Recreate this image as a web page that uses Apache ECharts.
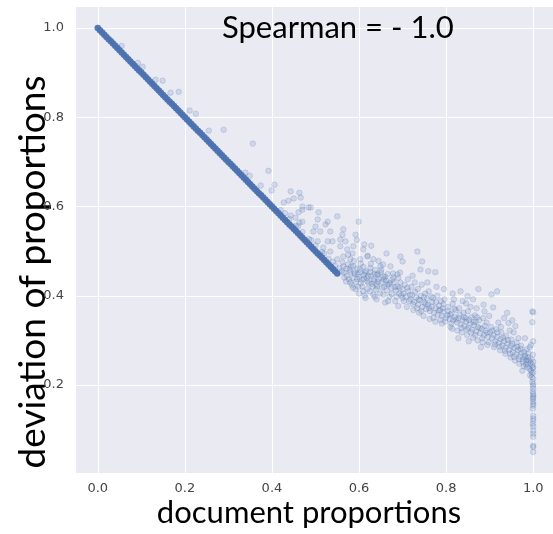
<!DOCTYPE html>
<html><head><meta charset="utf-8">
<script src="https://cdn.jsdelivr.net/npm/echarts@6/dist/echarts.min.js"></script>
<style>html,body{margin:0;padding:0;background:#fff}#c{width:553px;height:534px}</style>
</head><body><div id="c"></div>
<script>
const titleText = 'Spearman = - 1.0';
const xName = 'document proportions';
const yName = 'deviation of proportions';
const xTicks = [0, 0.2, 0.4, 0.6, 0.8, 1.0];
const yTicks = [0.2, 0.4, 0.6, 0.8, 1.0];

// dense diagonal run of points
const diagX = [0,0.005,0.01,0.015,0.02,0.025,0.03,0.035,0.04,0.045,
0.05,0.055,0.06,0.065,0.07,0.075,0.08,0.085,0.09,0.095,
0.1,0.105,0.11,0.115,0.12,0.125,0.13,0.135,0.14,0.145,
0.15,0.155,0.16,0.165,0.17,0.175,0.18,0.185,0.19,0.195,
0.2,0.205,0.21,0.215,0.22,0.225,0.23,0.235,0.24,0.245,
0.25,0.255,0.26,0.265,0.27,0.275,0.28,0.285,0.29,0.295,
0.3,0.305,0.31,0.315,0.32,0.325,0.33,0.335,0.34,0.345,
0.35,0.355,0.36,0.365,0.37,0.375,0.38,0.385,0.39,0.395,
0.4,0.405,0.41,0.415,0.42,0.425,0.43,0.435,0.44,0.445,
0.45,0.455,0.46,0.465,0.47,0.475,0.48,0.485,0.49,0.495,
0.5,0.505,0.51,0.515,0.52,0.525,0.53,0.535,0.54,0.545,
0.55];
const diagY = [1,0.995,0.99,0.985,0.98,0.975,0.97,0.965,0.96,0.955,
0.95,0.945,0.94,0.935,0.93,0.925,0.92,0.915,0.91,0.905,
0.9,0.895,0.89,0.885,0.88,0.875,0.87,0.865,0.86,0.855,
0.85,0.845,0.84,0.835,0.83,0.825,0.82,0.815,0.81,0.805,
0.8,0.795,0.79,0.785,0.78,0.775,0.77,0.765,0.76,0.755,
0.75,0.745,0.74,0.735,0.73,0.725,0.72,0.715,0.71,0.705,
0.7,0.695,0.69,0.685,0.68,0.675,0.67,0.665,0.66,0.655,
0.65,0.645,0.64,0.635,0.63,0.625,0.62,0.615,0.61,0.605,
0.6,0.595,0.59,0.585,0.58,0.575,0.57,0.565,0.56,0.555,
0.55,0.545,0.54,0.535,0.53,0.525,0.52,0.515,0.51,0.505,
0.5,0.495,0.49,0.485,0.48,0.475,0.47,0.465,0.46,0.455,
0.45];

const upperPoints = [[0.055,0.960],[0.092,0.922],[0.103,0.913],[0.133,0.884],[0.149,0.882],[0.167,0.855],[0.186,0.857],[0.211,0.815],[0.225,0.808],[0.255,0.770],[0.289,0.772],[0.356,0.741],[0.339,0.676],[0.349,0.669],[0.374,0.647],[0.392,0.680],[0.406,0.649],[0.399,0.636]];

const cloudPoints = [
[0.443,0.634],[0.463,0.631],[0.466,0.620],[0.427,0.609],[0.438,0.613],[0.450,0.618],[0.484,0.598],[0.470,0.593],[0.461,0.587],[0.443,0.580],[0.454,0.575],[0.470,0.566],[0.463,0.564],[0.507,0.587],[0.505,0.571],[0.528,0.566],[0.550,0.578],[0.599,0.566],[0.500,0.555],[0.511,0.544],[0.534,0.544],[0.564,0.549],[0.592,0.537],[0.557,0.526],[0.539,0.522],[0.528,0.522],[0.505,0.522],[0.518,0.508],[0.534,0.499],[0.557,0.511],[0.573,0.504],[0.587,0.511],[0.610,0.504],[0.619,0.488],[0.564,0.488],[0.550,0.482],[0.580,0.482],[0.603,0.482],[0.633,0.482],[0.649,0.466],[0.672,0.466],[0.587,0.466],[0.564,0.466],[0.580,0.453],[0.603,0.453],[0.626,0.453],[0.642,0.448],[0.656,0.444],[0.679,0.441],[0.596,0.437],[0.619,0.432],[0.633,0.437],[0.580,0.430],[0.592,0.415],[0.619,0.415],[0.642,0.421],[0.665,0.426],[0.688,0.421],[0.667,0.388],[0.683,0.388],[0.656,0.403],[0.633,0.403],[0.610,0.410],[0.690,0.377],[0.688,0.448],
[0.420,0.592],[0.440,0.572],[0.455,0.557],[0.470,0.543],[0.485,0.527],[0.500,0.513],[0.515,0.498],[0.530,0.483],[0.545,0.468],[0.430,0.585],[0.460,0.556],[0.490,0.525],[0.520,0.495],[0.540,0.476],[0.555,0.462],[0.560,0.455],
[0.470,0.600],[0.489,0.598],[0.495,0.544],[0.523,0.560],[0.562,0.537],[0.569,0.522],
[0.565,0.452],[0.572,0.445],[0.578,0.458],[0.585,0.440],[0.590,0.449],[0.596,0.461],[0.600,0.442],[0.606,0.436],[0.612,0.447],[0.618,0.440],[0.622,0.428],[0.628,0.445],[0.634,0.433],[0.640,0.426],[0.645,0.438],[0.652,0.431],[0.658,0.420],[0.662,0.434],[0.668,0.425],[0.674,0.417],[0.680,0.430],[0.685,0.412],[0.692,0.405],[0.575,0.470],[0.583,0.425],[0.598,0.420],[0.610,0.465],[0.625,0.410],[0.637,0.458],[0.648,0.405],[0.655,0.470],[0.670,0.398],[0.678,0.450],[0.695,0.430],[0.700,0.415],[0.562,0.475],[0.570,0.432],[0.588,0.478],[0.604,0.428],[0.616,0.455],[0.631,0.420],[0.643,0.447],[0.660,0.442],[0.676,0.436],[0.690,0.440],[0.615,0.395],[0.640,0.392],[0.660,0.385],[0.600,0.405],[0.585,0.495],[0.620,0.490],[0.645,0.478],[0.595,0.525],[0.612,0.515],
[0.566,0.441],[0.571,0.461],[0.577,0.437],[0.582,0.466],[0.589,0.452],[0.593,0.431],[0.597,0.448],[0.602,0.459],[0.607,0.421],[0.611,0.438],[0.614,0.452],[0.621,0.444],[0.626,0.462],[0.629,0.427],[0.636,0.449],[0.639,0.414],[0.644,0.432],[0.650,0.452],[0.653,0.418],[0.657,0.437],[0.664,0.412],[0.666,0.449],[0.671,0.429],[0.675,0.404],[0.682,0.419],[0.686,0.398],[0.693,0.418],[0.697,0.401],[0.604,0.472],[0.627,0.472],[0.651,0.458],[0.586,0.418],[0.613,0.401],[0.636,0.398],[0.694,0.452],[0.663,0.495],[0.628,0.512],[0.575,0.492],
[0.734,0.499],[0.745,0.477],[0.695,0.488],[0.700,0.477],[0.741,0.459],[0.759,0.455],[0.775,0.453],
[0.702,0.405],[0.708,0.398],[0.713,0.410],[0.718,0.392],[0.722,0.402],[0.727,0.386],[0.731,0.396],[0.736,0.380],[0.740,0.390],[0.745,0.375],[0.750,0.385],[0.754,0.370],[0.758,0.380],[0.763,0.366],[0.767,0.376],[0.772,0.362],[0.776,0.372],[0.781,0.358],[0.786,0.368],[0.790,0.355],[0.795,0.364],[0.799,0.350],
[0.705,0.425],[0.712,0.437],[0.720,0.420],[0.728,0.430],[0.735,0.415],[0.744,0.425],[0.752,0.405],[0.760,0.410],[0.770,0.395],[0.780,0.400],[0.788,0.388],[0.796,0.392],[0.710,0.375],[0.725,0.368],[0.738,0.362],[0.748,0.355],[0.762,0.348],[0.775,0.342],[0.790,0.338],[0.715,0.388],[0.742,0.400],[0.756,0.394],[0.768,0.386],[0.784,0.378],[0.733,0.372],[0.792,0.372],[0.700,0.395],[0.723,0.445],[0.757,0.430],[0.778,0.420],[0.795,0.415],
[0.703,0.388],[0.711,0.418],[0.717,0.402],[0.724,0.381],[0.729,0.409],[0.737,0.392],[0.743,0.366],[0.749,0.397],[0.753,0.382],[0.761,0.372],[0.766,0.398],[0.771,0.351],[0.777,0.386],[0.783,0.367],[0.787,0.346],[0.794,0.381],[0.798,0.342],
[0.833,0.410],[0.874,0.415],[0.917,0.410],[0.904,0.403],[0.849,0.399],[0.846,0.383],[0.908,0.374],
[0.803,0.356],[0.808,0.348],[0.812,0.360],[0.816,0.345],[0.820,0.352],[0.825,0.340],[0.829,0.350],[0.833,0.336],[0.838,0.346],[0.842,0.332],[0.846,0.342],[0.851,0.328],[0.855,0.338],[0.860,0.324],[0.864,0.334],[0.869,0.320],[0.873,0.330],[0.878,0.316],[0.882,0.326],[0.887,0.312],[0.891,0.322],[0.896,0.308],
[0.805,0.375],[0.815,0.382],[0.822,0.368],[0.830,0.372],[0.840,0.362],[0.850,0.365],[0.858,0.352],[0.866,0.356],[0.876,0.345],[0.885,0.350],[0.893,0.340],[0.810,0.330],[0.826,0.322],[0.836,0.318],[0.848,0.312],[0.862,0.306],[0.872,0.300],[0.884,0.296],[0.895,0.290],[0.818,0.392],[0.838,0.388],[0.856,0.375],[0.870,0.372],[0.888,0.365],[0.899,0.355],[0.828,0.305],[0.852,0.298],[0.880,0.285],[0.812,0.338],[0.845,0.350],[0.868,0.342],
[0.804,0.366],[0.809,0.358],[0.814,0.326],[0.819,0.371],[0.823,0.347],[0.831,0.358],[0.835,0.328],[0.841,0.352],[0.847,0.325],[0.853,0.346],[0.857,0.318],[0.863,0.341],[0.867,0.312],[0.871,0.352],[0.877,0.328],[0.883,0.305],[0.889,0.333],[0.894,0.317],[0.898,0.296],[0.886,0.380],[0.862,0.392],[0.815,0.405],
[0.933,0.350],[0.943,0.339],[0.959,0.332],[0.940,0.362],[0.955,0.318],
[0.901,0.318],[0.905,0.305],[0.909,0.312],[0.913,0.298],[0.917,0.308],[0.921,0.294],[0.925,0.303],[0.929,0.289],[0.933,0.298],[0.937,0.284],[0.941,0.293],[0.945,0.279],[0.949,0.288],[0.953,0.274],[0.957,0.283],[0.961,0.269],[0.965,0.278],[0.969,0.264],[0.973,0.272],[0.977,0.258],[0.981,0.266],
[0.903,0.330],[0.915,0.325],[0.927,0.318],[0.938,0.310],[0.950,0.302],[0.962,0.295],[0.972,0.288],[0.910,0.285],[0.924,0.278],[0.936,0.270],[0.948,0.262],[0.958,0.255],[0.968,0.248],[0.978,0.242],[0.920,0.340],[0.946,0.322],[0.966,0.305],[0.985,0.280],[0.975,0.232],
[0.906,0.322],[0.912,0.291],[0.918,0.318],[0.923,0.286],[0.931,0.306],[0.935,0.277],[0.942,0.301],[0.947,0.270],[0.952,0.292],[0.956,0.263],[0.963,0.286],[0.967,0.258],[0.971,0.281],[0.976,0.252],[0.979,0.274],[0.983,0.246],[0.982,0.262],[0.989,0.271],[0.926,0.330],[0.952,0.345],[0.981,0.305]
];

const columnPoints = [[0.998,0.365],[1.000,0.363],[0.998,0.341],[1.000,0.298],[0.995,0.290],[0.992,0.285],[0.988,0.262],[0.990,0.255],[0.994,0.250],[0.996,0.258],[0.998,0.245],[1.000,0.252],[0.986,0.240],[0.991,0.236],[0.995,0.232],[0.999,0.238],[1.000,0.228],[0.993,0.222],[0.997,0.218],[1.000,0.214],[0.998,0.207],[1.000,0.202],[0.999,0.198],[1.000,0.192],[0.999,0.185],[1.000,0.180],[1.000,0.176],[0.999,0.169],[1.000,0.163],[1.000,0.154],[0.999,0.147],[1.000,0.131],[1.000,0.120],[0.999,0.113],[1.000,0.107],[1.000,0.098],[1.000,0.091],[1.000,0.084],[1.000,0.064],[1.000,0.061],[1.000,0.050],[0.997,0.226],[0.999,0.268],[0.984,0.255],[0.987,0.248],[1.000,0.240],[1.000,0.172],[1.000,0.158],[1.000,0.125]];

const diagData = diagX.map((x, i) => [x, diagY[i]]);
const scatterData = upperPoints.concat(cloudPoints, columnPoints);

const chart = echarts.init(document.getElementById('c'), null, {renderer: 'canvas'});
const labelStyle = {color: '#444', fontFamily: 'DejaVu Sans', fontSize: 13};
chart.setOption({
  backgroundColor: '#ffffff',
  animation: false,
  title: {
    text: titleText, left: 222, top: 12, padding: 0,
    textStyle: {fontFamily: 'Lato', fontSize: 31, fontWeight: 'normal', color: '#000'}
  },
  grid: {left: 76, top: 7, width: 479, height: 466, show: true, backgroundColor: '#EAEAF2', borderWidth: 0, containLabel: false, outerBoundsMode: 'none'},
  xAxis: {
    type: 'value', min: -0.05, max: 1.05,
    axisLine: {show: false},
    axisTick: {show: false, customValues: xTicks},
    axisLabel: Object.assign({customValues: xTicks, margin: 9, formatter: v => v.toFixed(1)}, labelStyle),
    splitLine: {show: true, lineStyle: {color: '#ffffff', width: 1}},
    name: xName, nameLocation: 'middle', nameGap: 24, nameMoveOverlap: false,
    nameTextStyle: {fontFamily: 'Lato', fontSize: 31, color: '#000', padding: [0, 13, 0, 0]}
  },
  yAxis: {
    type: 'value', min: 0.003, max: 1.047,
    axisLine: {show: false},
    axisTick: {show: false, customValues: yTicks},
    axisLabel: Object.assign({customValues: yTicks, margin: 12, formatter: v => v.toFixed(1)}, labelStyle),
    splitLine: {show: true, lineStyle: {color: '#ffffff', width: 1}},
    name: yName, nameLocation: 'middle', nameGap: 24, nameMoveOverlap: false,
    nameTextStyle: {fontFamily: 'Lato', fontSize: 37, color: '#000', padding: [0, 64, 0, 0]}
  },
  series: [
    {type: 'scatter', data: diagData, symbolSize: 6.5, silent: true,
     itemStyle: {color: '#4C72B0', opacity: 0.95}},
    {type: 'scatter', data: scatterData, symbolSize: 5.5, silent: true,
     itemStyle: {color: 'rgba(76,114,176,0.2)', borderColor: 'rgba(76,114,176,0.32)', borderWidth: 0.8}}
  ]
});
</script></body></html>
